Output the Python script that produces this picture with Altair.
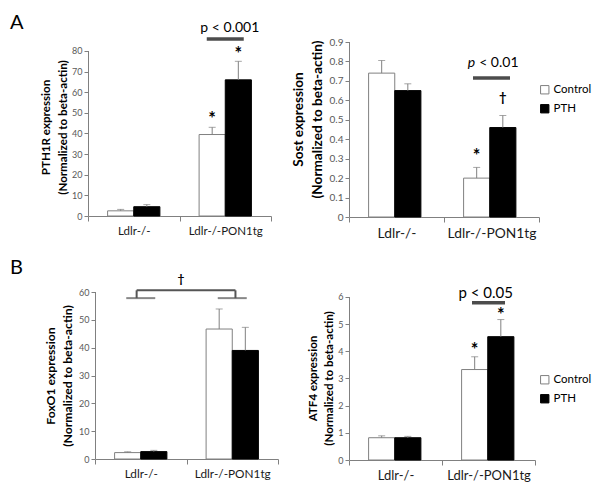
import altair as alt
import pandas as pd

# ---------------- data ----------------
groups = ["Ldlr-/-", "Ldlr-/-PON1tg"]
treatments = ["Control", "PTH"]

pth1r_mean = [2.5, 4.5, 39.5, 66.0]
pth1r_err = [0.7, 1.0, 3.5, 9.0]
sost_mean = [0.74, 0.65, 0.20, 0.46]
sost_err = [0.065, 0.035, 0.055, 0.062]
foxo1_mean = [2.3, 2.65, 46.7, 39.0]
foxo1_err = [0.3, 0.45, 7.2, 8.3]
atf4_mean = [0.82, 0.82, 3.33, 4.54]
atf4_err = [0.07, 0.05, 0.47, 0.63]

# axis tops (value of the highest tick) and the panels' scale tops
pth1r_axis = [80, 84.36]
sost_axis = [0.9, 0.9]
foxo1_axis = [60, 60]
atf4_axis = [6, 6.184]

# significance symbols (over the Ldlr-/-PON1tg bars)
pth1r_sig_text = ["*", "*"]
pth1r_sig_y = [44.3, 75.6]
sost_sig_text = ["*", "†"]
sost_sig_y = [0.285, 0.589]
atf4_sig_text = ["*", "*"]
atf4_sig_y = [3.81, 5.13]

# p-value annotations: line level, text baseline level
pth1r_p = ["p < 0.001", 85.8, 89.2]
sost_p = ["p", "< 0.01", 0.715, 0.77]
atf4_p = ["p < 0.05", 5.79, 5.96]

# bracket in FoxO1 panel
foxo1_bracket_low = 57.8
foxo1_bracket_top = 60.6
foxo1_bracket_mark = ["†", 63.4]

# panel letters (baseline level in the panel's own units)
panel_letters = ["A", "B"]
panel_letter_y = [90.65, 66.5]

FONT = "Lato"
GRAY = "#808080"


def bar_df(means, errs):
    return pd.DataFrame({
        "group": [groups[0], groups[0], groups[1], groups[1]],
        "treatment": treatments * 2,
        "mean": means,
        "upper": [m + e for m, e in zip(means, errs)],
    })


def make_panel(df, axis_top, yvals, yfmt, ytitle, w, h, legend, title_pad, extra_fn,
               xlab_fs, ylab_fs, ytitle_fs, title_y=None, shift=0):
    xaxis = alt.Axis(title=None, labelAngle=0, tickBand="extent", labelFontSize=xlab_fs)
    if shift:
        xscale = alt.Scale(domain=groups, paddingInner=0, paddingOuter=0, range=[shift, w + shift])
    else:
        xscale = alt.Scale(domain=groups, paddingInner=0, paddingOuter=0)

    def xenc(field="group", bp=None):
        if bp is None:
            return alt.X(f"{field}:N", sort=groups, scale=xscale, axis=xaxis)
        return alt.X(f"{field}:N", sort=groups, scale=xscale, axis=xaxis, bandPosition=bp)

    xoff = alt.XOffset("treatment:N", sort=treatments,
                       scale=alt.Scale(domain=treatments, paddingInner=0, paddingOuter=0.75))
    yscale = alt.Scale(domain=[0, axis_top[1]], nice=False)
    ykw = dict(values=yvals, format=yfmt, title=ytitle, titlePadding=title_pad, domain=False,
               labelFontSize=ylab_fs, titleFontSize=ytitle_fs, titleLineHeight=ytitle_fs + 5)
    if title_y is not None:
        ykw["titleY"] = title_y
    if shift:
        ykw["offset"] = -shift
    yaxis = alt.Axis(**ykw)

    def yenc(field):
        return alt.Y(f"{field}:Q", scale=yscale, axis=yaxis)

    base = alt.Chart(df)
    bars = base.mark_bar(strokeWidth=1).encode(
        x=xenc(), xOffset=xoff, y=yenc("mean"),
        fill=alt.Fill("treatment:N", sort=treatments,
                      scale=alt.Scale(domain=treatments, range=["#ffffff", "#000000"]),
                      legend=legend),
        stroke=alt.Stroke("treatment:N", sort=treatments,
                          scale=alt.Scale(domain=treatments, range=[GRAY, "#000000"]),
                          legend=None),
    )
    err = base.mark_rule(color=GRAY, strokeWidth=1).encode(
        x=xenc(), xOffset=xoff, y=yenc("mean"), y2="upper:Q")
    cap = base.mark_tick(color=GRAY, size=7, thickness=1).encode(
        x=xenc(), xOffset=xoff, y=yenc("upper"))
    # y axis line, from 0 to the top tick
    d_ax = pd.DataFrame({"group": [groups[0]], "y": [0], "y2": [axis_top[0]]})
    axline = alt.Chart(d_ax).mark_rule(color=GRAY, strokeWidth=1, xOffset=0.5).encode(
        x=xenc(bp=0), y=yenc("y"), y2="y2:Q")
    layers = [bars, err, cap, axline] + extra_fn(xenc, xoff, yenc)
    return alt.layer(*layers).properties(width=w + shift, height=h)


def letter_layer(i, dx, xenc, yenc):
    d = pd.DataFrame({"group": [groups[0]], "y": [panel_letter_y[i]], "label": [panel_letters[i]]})
    return alt.Chart(d).mark_text(font=FONT, fontSize=20, align="left", baseline="alphabetic",
                                  dx=dx, color="black").encode(
        x=xenc(bp=0), y=yenc("y"), text="label:N")


def sig_layer(texts, ys, size, xenc, xoff, yenc):
    d = pd.DataFrame({"group": [groups[1]] * len(texts), "treatment": treatments[:len(texts)],
                      "label": texts, "y": ys})
    return alt.Chart(d).mark_text(font=FONT, fontSize=size, fontWeight="bold",
                                  baseline="alphabetic", color="black").encode(
        x=xenc(), xOffset=xoff, y=yenc("y"), text="label:N")


def p_layers(text, yline, ytext, line_w, bp_line, bp_text, fs, xenc, yenc):
    d_line = pd.DataFrame({"group": [groups[1]], "y": [yline]})
    d_text = pd.DataFrame({"group": [groups[1]], "y": [ytext], "label": [text]})
    line = alt.Chart(d_line).mark_tick(color="black", size=line_w, thickness=3.5).encode(
        x=xenc(bp=bp_line), y=yenc("y"))
    txt = alt.Chart(d_text).mark_text(font=FONT, fontSize=fs, baseline="alphabetic", color="black").encode(
        x=xenc(bp=bp_text), y=yenc("y"), text="label:N")
    return [line, txt]


def extra_pth1r(xenc, xoff, yenc):
    return p_layers(pth1r_p[0], pth1r_p[1], pth1r_p[2], 37, 0.5, 0.55, 14, xenc, yenc) + [
        sig_layer(pth1r_sig_text, pth1r_sig_y, 18, xenc, xoff, yenc),
        letter_layer(0, -78, xenc, yenc)]


def extra_sost(xenc, xoff, yenc):
    d_line = pd.DataFrame({"group": [groups[1]], "y": [sost_p[2]]})
    line = alt.Chart(d_line).mark_tick(color="black", size=37, thickness=3.5).encode(
        x=xenc(bp=0.47), y=yenc("y"))
    d_p = pd.DataFrame({"group": [groups[1]], "y": [sost_p[3]], "label": [sost_p[0]]})
    d_rest = pd.DataFrame({"group": [groups[1]], "y": [sost_p[3]], "label": [sost_p[1]]})
    tp = alt.Chart(d_p).mark_text(font=FONT, fontSize=14, fontStyle="italic", align="left",
                                  baseline="alphabetic", color="black").encode(
        x=xenc(bp=0.25), y=yenc("y"), text="label:N")
    tr = alt.Chart(d_rest).mark_text(font=FONT, fontSize=14, align="left",
                                     baseline="alphabetic", color="black").encode(
        x=xenc(bp=0.37), y=yenc("y"), text="label:N")
    star = sig_layer(sost_sig_text[:1], sost_sig_y[:1], 18, xenc, xoff, yenc)
    d_dag = pd.DataFrame({"group": [groups[1]], "treatment": [treatments[1]],
                          "label": [sost_sig_text[1]], "y": [sost_sig_y[1]]})
    dag = alt.Chart(d_dag).mark_text(font=FONT, fontSize=13, fontWeight="bold",
                                     baseline="alphabetic", color="black").encode(
        x=xenc(), xOffset=xoff, y=yenc("y"), text="label:N")
    return [line, tp, tr, star, dag]


def extra_foxo1(xenc, xoff, yenc):
    layers = []
    for g, bp in zip(groups, [0.455, 0.535]):
        d = pd.DataFrame({"group": [g], "y": [foxo1_bracket_low], "y2": [foxo1_bracket_top]})
        layers.append(alt.Chart(d).mark_tick(color="#555555", size=29, thickness=2).encode(
            x=xenc(bp=bp), y=yenc("y")))
        layers.append(alt.Chart(d).mark_rule(color="#555555", strokeWidth=2).encode(
            x=xenc(bp=bp), y=yenc("y"), y2="y2:Q"))
    d_top = pd.DataFrame({"group": [groups[0]], "g2": [groups[1]], "y": [foxo1_bracket_top]})
    top = alt.Chart(d_top).mark_rule(color="#555555", strokeWidth=2).encode(
        x=xenc(bp=0.455), x2=alt.X2("g2:N", bandPosition=0.535), y=yenc("y"))
    d_dag = pd.DataFrame({"group": [groups[0]], "y": [foxo1_bracket_mark[1]],
                          "label": [foxo1_bracket_mark[0]]})
    dag = alt.Chart(d_dag).mark_text(font=FONT, fontSize=12, fontWeight="bold",
                                     baseline="alphabetic", color="black").encode(
        x=xenc(bp=0.94), y=yenc("y"), text="label:N")
    return layers + [top, dag, letter_layer(1, -85, xenc, yenc)]


def extra_atf4(xenc, xoff, yenc):
    return p_layers(atf4_p[0], atf4_p[1], atf4_p[2], 33, 0.43, 0.47, 15, xenc, yenc) + [
        sig_layer(atf4_sig_text, atf4_sig_y, 18, xenc, xoff, yenc)]


def legend_at(lx, ly, fs):
    return alt.Legend(orient="none", legendX=lx, legendY=ly, title=None, symbolType="square",
                      symbolSize=70, symbolStrokeColor=GRAY, symbolStrokeWidth=1,
                      labelFont=FONT, labelFontSize=fs, labelColor="black",
                      rowPadding=6, labelOffset=3)


ytitle_tail = "(Normalized to beta-actin)"

aL = make_panel(bar_df(pth1r_mean, pth1r_err), pth1r_axis, list(range(0, 81, 10)), "d",
                ["PTH1R expression", ytitle_tail], 183, 174, None, 3, extra_pth1r,
                11.5, 9, 11.6, 85)
aR = make_panel(bar_df(sost_mean, sost_err), sost_axis, [round(i * 0.1, 1) for i in range(10)], ".1~f",
                ["Sost expression", ytitle_tail], 190, 175, legend_at(190, 42, 11.5), 5, extra_sost,
                13.8, 10, 13.6, 77)
bL = make_panel(bar_df(foxo1_mean, foxo1_err), foxo1_axis, list(range(0, 61, 10)), "d",
                ["FoxO1 expression", ytitle_tail], 183, 167, None, 4, extra_foxo1,
                11.8, 9, 12.2, None, 7)
bR = make_panel(bar_df(atf4_mean, atf4_err), atf4_axis, list(range(0, 7)), "d",
                ["ATF4 expression", ytitle_tail], 186, 168, legend_at(190, 82, 11.5), 3, extra_atf4,
                13, 9, 11.6, 86)

chart = alt.concat(
    aL, aR, bL, bR, columns=2, spacing={"row": 75, "column": 71},
    bounds="flush", align="each",
).resolve_scale(
    fill="independent", stroke="independent"
).resolve_legend(
    fill="independent", stroke="independent"
).properties(
    padding={"left": 2, "top": 5, "right": 0, "bottom": 0}
).configure_view(
    stroke=None
).configure_axis(
    labelFont=FONT, titleFont=FONT, domainColor=GRAY, tickColor=GRAY, grid=False,
).configure_axisY(
    labelColor="#595959", tickSize=4, labelPadding=2,
    titleFontWeight="bold", titleColor="black",
).configure_axisX(
    labelColor="#1a1a1a", tickSize=5, labelPadding=4,
)

chart.save("out.html", embed_options={"renderer": "svg", "actions": False})
